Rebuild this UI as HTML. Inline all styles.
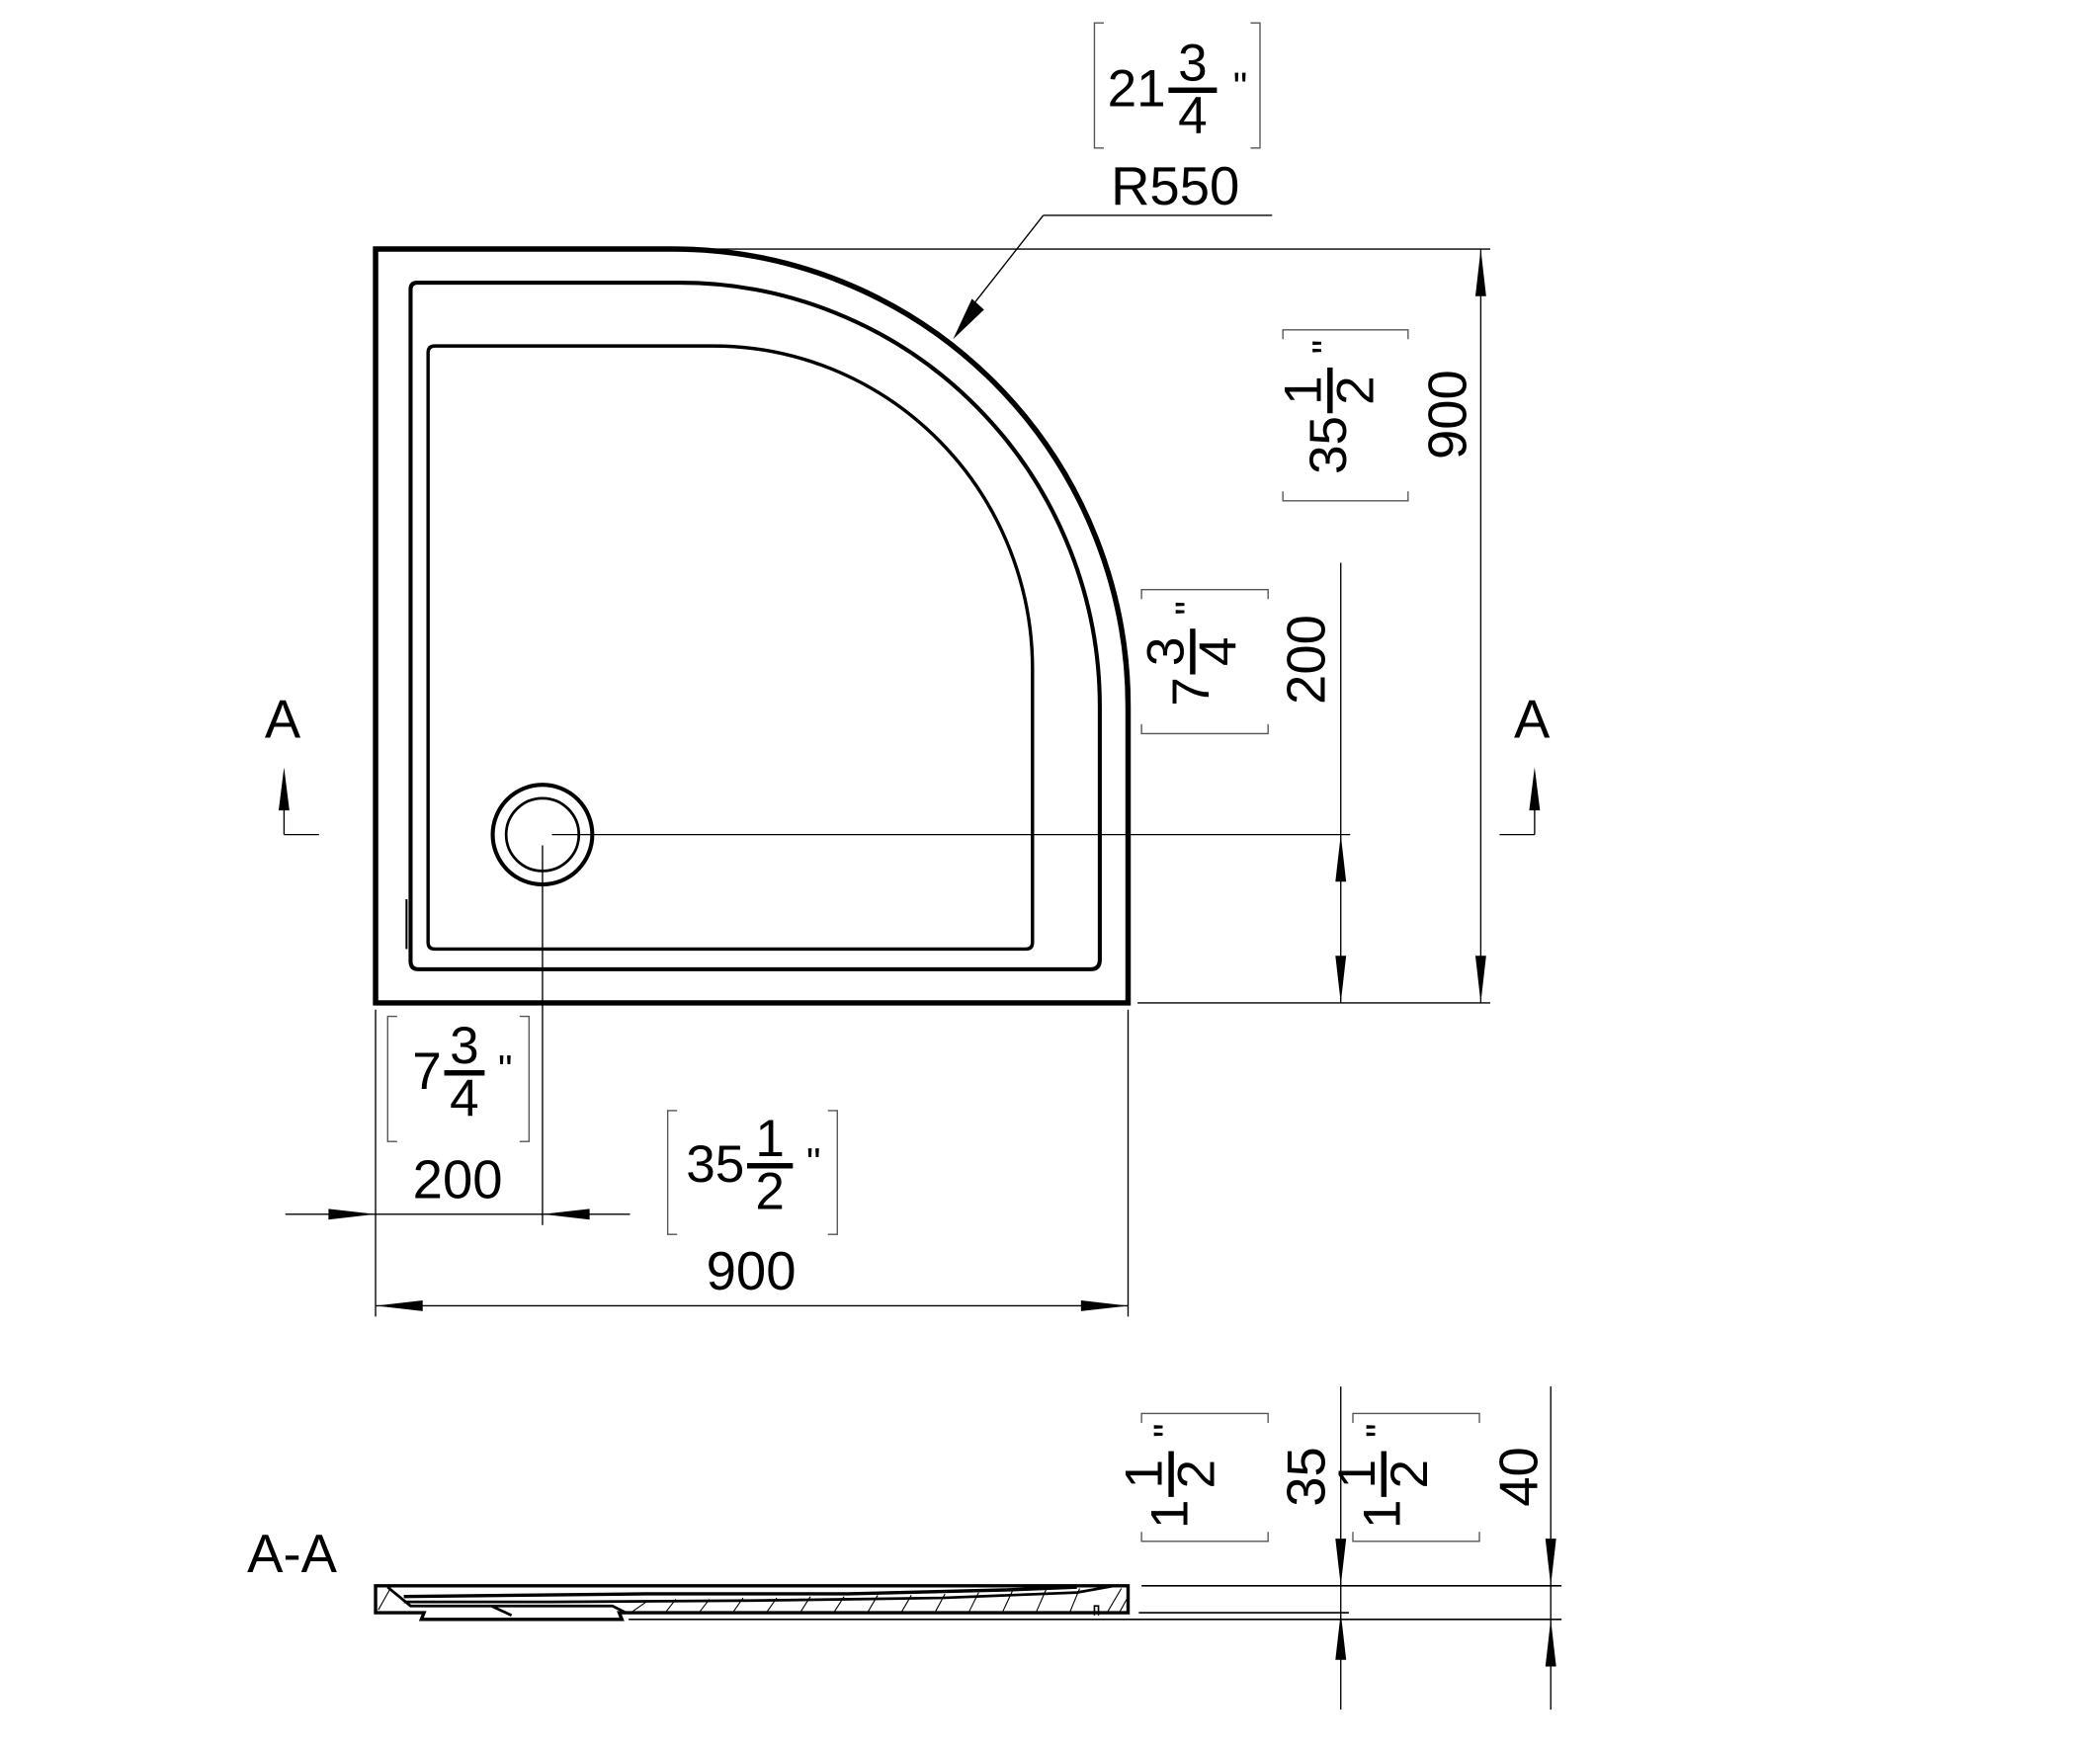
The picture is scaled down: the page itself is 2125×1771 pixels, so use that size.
<!DOCTYPE html>
<html><head><meta charset="utf-8"><style>html,body{margin:0;padding:0;background:#fff}svg{display:block}</style></head>
<body>
<svg width="2125" height="1771" viewBox="0 0 1560 1300" preserveAspectRatio="none" xmlns="http://www.w3.org/2000/svg" font-family="Liberation Sans, sans-serif">
<g fill="none" stroke="#000">
<path d="M279 745 L279 185 L500 185 A338 340 0 0 1 838 525 L838 745 Z" stroke-width="4"/>
<path d="M305 715 L305 215 Q305 210 310 210 L505 210 A312 315 0 0 1 817 525 L817 713 Q817 720 810 720 L311 720 Q305 720 305 714 Z" stroke-width="3"/>
<path d="M302 668 L302 705" stroke-width="1.5"/>
<path d="M318 700 L318 262 Q318 257 323 257 L530 257 A237 240 0 0 1 767 497 L767 700 Q767 705 762 705 L323 705 Q318 705 318 700 Z" stroke-width="2.5"/>
<circle cx="403" cy="620" r="37" stroke-width="3"/>
<circle cx="403" cy="620" r="27" stroke-width="2"/>
</g>
<g stroke="#000" stroke-width="1" fill="none">
<line x1="410" y1="620" x2="1003" y2="620"/>
<line x1="403" y1="628" x2="403" y2="910"/>
<line x1="500" y1="185" x2="1107" y2="185"/>
<line x1="845" y1="745" x2="1107" y2="745"/>
<line x1="996" y1="418" x2="996" y2="745"/>
<line x1="1100" y1="185" x2="1100" y2="745"/>
<line x1="279" y1="750" x2="279" y2="978"/>
<line x1="838" y1="750" x2="838" y2="978"/>
<line x1="212" y1="902" x2="468" y2="902"/>
<line x1="279" y1="970" x2="838" y2="970"/>
<line x1="945" y1="160" x2="775" y2="160"/>
<line x1="775" y1="160" x2="720" y2="230"/>
<line x1="211" y1="620" x2="237" y2="620"/>
<line x1="211" y1="600" x2="211" y2="620"/>
<line x1="1114" y1="620" x2="1140" y2="620"/>
<line x1="1140" y1="600" x2="1140" y2="620"/>
<line x1="996" y1="1030" x2="996" y2="1270"/>
<line x1="1152" y1="1030" x2="1152" y2="1270"/>
<line x1="848" y1="1178" x2="1160" y2="1178" stroke-width="1.2"/>
<line x1="846" y1="1198" x2="1002" y2="1198" stroke-width="1.2"/>
<line x1="467" y1="1203" x2="1160" y2="1203" stroke-width="1.2"/>
</g>
<g fill="#000">
<polygon points="708,252 722,222 731,230"/>
<polygon points="996,620 992,655 1000,655"/>
<polygon points="996,745 992,710 1000,710"/>
<polygon points="1100,185 1096,220 1104,220"/>
<polygon points="1100,745 1096,710 1104,710"/>
<polygon points="279,902 244,898 244,906"/>
<polygon points="403,902 438,898 438,906"/>
<polygon points="279,970 314,966 314,974"/>
<polygon points="838,970 803,966 803,974"/>
<polygon points="211,570 207,602 215,602"/>
<polygon points="1140,570 1136,602 1144,602"/>
<polygon points="996,1178 992,1143 1000,1143"/>
<polygon points="996,1198 992,1233 1000,1233"/>
<polygon points="1152,1178 1148,1143 1156,1143"/>
<polygon points="1152,1203 1148,1238 1156,1238"/>
</g>
<g stroke="#000" fill="none">
<path d="M279 1178 L838 1178 L838 1198 L460 1198 L462 1203 L313 1203 L315 1198 L279 1198 Z" stroke-width="2.5"/>
<path d="M288 1179 L305 1193 L365 1193 L380 1200 M305 1193 L455 1193 L465 1198" stroke-width="2"/>
<path d="M300 1186 L480 1184 L630 1184 L750 1181 L800 1179" stroke-width="2.5"/>
<path d="M300 1190 L410 1190 L560 1189 L700 1187 L800 1183 L828 1178" stroke-width="2"/>
<path d="M813 1200 L813 1193 L816 1193 L816 1200" stroke-width="1.2"/>
<g stroke-width="0.8">
<line x1="281" y1="1196" x2="290" y2="1180"/><line x1="470" y1="1197" x2="480" y2="1190"/>
<line x1="495" y1="1197" x2="502" y2="1188"/><line x1="520" y1="1197" x2="527" y2="1188"/>
<line x1="545" y1="1197" x2="552" y2="1187"/><line x1="570" y1="1197" x2="577" y2="1187"/>
<line x1="595" y1="1197" x2="602" y2="1186"/><line x1="620" y1="1197" x2="627" y2="1186"/>
<line x1="645" y1="1197" x2="652" y2="1185"/><line x1="670" y1="1197" x2="677" y2="1185"/>
<line x1="695" y1="1197" x2="702" y2="1184"/><line x1="720" y1="1197" x2="727" y2="1183"/>
<line x1="745" y1="1197" x2="752" y2="1182"/><line x1="770" y1="1197" x2="777" y2="1181"/>
<line x1="795" y1="1197" x2="802" y2="1180"/><line x1="823" y1="1197" x2="833" y2="1180"/>
<line x1="832" y1="1197" x2="837" y2="1188"/>
</g>
</g>
<g stroke="#555" stroke-width="1" fill="none">
<path d="M820 17 L813 17 L813 110 L820 110 M929 17 L936 17 L936 110 L929 110"/>
<path d="M295 755 L288 755 L288 848 L295 848 M386 755 L393 755 L393 848 L386 848"/>
<path d="M503 825 L496 825 L496 917 L503 917 M615 825 L622 825 L622 917 L615 917"/>
<path d="M953 252 L953 245 L1046 245 L1046 252 M953 365 L953 372 L1046 372 L1046 365"/>
<path d="M848 445 L848 438 L942 438 L942 445 M848 538 L848 545 L942 545 L942 538"/>
<path d="M848 1057 L848 1050 L942 1050 L942 1057 M848 1138 L848 1145 L942 1145 L942 1138"/>
<path d="M1005 1057 L1005 1050 L1099 1050 L1099 1057 M1005 1138 L1005 1145 L1099 1145 L1099 1138"/>
</g>
<g font-size="40" fill="#000">
<text x="873" y="152" text-anchor="middle">R550</text>
<text x="340" y="890" text-anchor="middle">200</text>
<text x="558" y="958" text-anchor="middle">900</text>
<text x="217" y="1168" text-anchor="middle">A-A</text>
<text x="210" y="548" text-anchor="middle">A</text>
<text x="1138" y="548" text-anchor="middle">A</text>
<text transform="translate(1089,308) rotate(-90)" text-anchor="middle">900</text>
<text transform="translate(984,490) rotate(-90)" text-anchor="middle">200</text>
<text transform="translate(984,1097) rotate(-90)" text-anchor="middle">35</text>
<text transform="translate(1142,1097) rotate(-90)" text-anchor="middle">40</text>
</g>
<g fill="#000" font-size="39">
<g transform="translate(868,67)">
<text x="-2" y="12" text-anchor="end">21</text><text x="18" y="-7" text-anchor="middle">3</text><rect x="0" y="-2" width="36" height="4"/><text x="18" y="32" text-anchor="middle">4</text><text x="48" y="8" font-size="30">"</text></g>
<g transform="translate(330,797)">
<text x="-2" y="12" text-anchor="end">7</text><text x="15" y="-7" text-anchor="middle">3</text><rect x="0" y="-2" width="30" height="4"/><text x="15" y="32" text-anchor="middle">4</text><text x="40" y="8" font-size="30">"</text></g>
<g transform="translate(555,866)">
<text x="-2" y="12" text-anchor="end">35</text><text x="17" y="-7" text-anchor="middle">1</text><rect x="0" y="-2" width="34" height="4"/><text x="17" y="32" text-anchor="middle">2</text><text x="44" y="8" font-size="30">"</text></g>
<g transform="translate(988,307) rotate(-90)">
<text x="-2" y="12" text-anchor="end">35</text><text x="17" y="-7" text-anchor="middle">1</text><rect x="0" y="-2" width="34" height="4"/><text x="17" y="32" text-anchor="middle">2</text><text x="44" y="8" font-size="30">"</text></g>
<g transform="translate(886,501) rotate(-90)">
<text x="-2" y="12" text-anchor="end">7</text><text x="17" y="-7" text-anchor="middle">3</text><rect x="0" y="-2" width="34" height="4"/><text x="17" y="32" text-anchor="middle">4</text><text x="44" y="8" font-size="30">"</text></g>
<g transform="translate(870,1112) rotate(-90)">
<text x="-2" y="12" text-anchor="end">1</text><text x="17" y="-7" text-anchor="middle">1</text><rect x="0" y="-2" width="34" height="4"/><text x="17" y="32" text-anchor="middle">2</text><text x="44" y="8" font-size="30">"</text></g>
<g transform="translate(1028,1112) rotate(-90)">
<text x="-2" y="12" text-anchor="end">1</text><text x="17" y="-7" text-anchor="middle">1</text><rect x="0" y="-2" width="34" height="4"/><text x="17" y="32" text-anchor="middle">2</text><text x="44" y="8" font-size="30">"</text></g>
</g>
</svg>
</body></html>
